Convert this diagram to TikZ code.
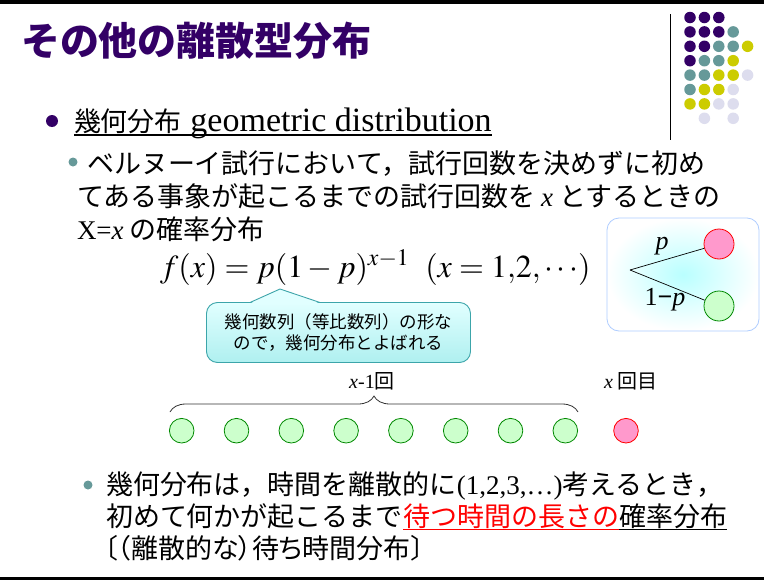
\documentclass[tikz,border=0pt]{standalone}
\usepackage{mathptmx}
\usepackage{fontspec}
\setmainfont{Liberation Serif}
\newfontfamily\jp{Noto Sans CJK JP}
\newfontfamily\jpp[RawFeature=+palt]{Noto Sans CJK JP}
\usetikzlibrary{decorations.pathreplacing}
\definecolor{ttl}{RGB}{51,0,102}
\definecolor{dpur}{RGB}{51,0,102}
\definecolor{dteal}{RGB}{102,153,153}
\definecolor{dyel}{RGB}{204,204,0}
\definecolor{dlav}{RGB}{221,221,238}
\definecolor{pinkf}{RGB}{255,153,204}
\definecolor{greenf}{RGB}{204,255,204}
\definecolor{greend}{RGB}{0,136,0}
\definecolor{callb}{RGB}{60,165,170}
\definecolor{calltop}{RGB}{225,255,255}
\definecolor{callbot}{RGB}{175,240,240}
\definecolor{treeb}{RGB}{175,205,255}
\definecolor{treein}{RGB}{185,255,255}
\tikzset{
  txt/.style={inner sep=0pt, outer sep=0pt, anchor=base west},
  body/.style={txt, font=\jp\fontsize{27}{30}\selectfont},
  gcirc/.style={circle, draw=greend, fill=greenf, line width=0.8pt, minimum size=24.6pt, inner sep=0pt},
  rcirc/.style={circle, draw=red, fill=pinkf, line width=0.8pt, minimum size=24.6pt, inner sep=0pt},
  dotp/.style={circle, fill=#1, minimum size=11.5pt, inner sep=0pt},
}
\begin{document}
\begin{tikzpicture}[x=1pt,y=-1pt]
\useasboundingbox (0,0) rectangle (764,581);
\fill[white] (0,0) rectangle (764,581);
% page rules
\draw[line width=3.5pt] (0,1.8) -- (764,1.8);
\draw[line width=3pt] (0,578.5) -- (764,578.5);
% title
\node[txt, text=ttl, font=\jp\bfseries\fontsize{39}{41}\selectfont] (title) at (21,55) {その他の離散型分布};
% decoration: vertical rule and dot grid
\coordinate (vt) at (670,14);
\coordinate (vb) at (670,140);
\draw[line width=0.9pt] (vt) -- (vb);
\foreach \r/\c/\col in {0/0/dpur,0/1/dpur,0/2/dpur,
  1/0/dpur,1/1/dpur,1/2/dpur,1/3/dteal,
  2/0/dpur,2/1/dpur,2/2/dteal,2/3/dteal,2/4/dyel,
  3/0/dpur,3/1/dteal,3/2/dteal,3/3/dyel,
  4/0/dteal,4/1/dteal,4/2/dyel,4/3/dyel,4/4/dlav,
  5/0/dteal,5/1/dyel,5/2/dyel,5/3/dlav,
  6/0/dyel,6/1/dyel,6/2/dlav,6/3/dlav,
  7/1/dlav,7/3/dlav}{
  \node[dotp=\col] (d\r\c) at ({690+14.4*\c},{17.5+14.4*\r}) {};
}
% heading
\node[circle, fill=dpur, minimum size=12pt, inner sep=0pt] (b1) at (52,121) {};
\node[txt, font=\fontsize{34}{36}\selectfont] (h) at (74,131) {{\jpp\fontsize{27}{30}\selectfont 幾何分布} geometric distribution};
\draw[line width=1.3pt] ([yshift=-4pt]h.base west) -- ([yshift=-4pt]h.base east);
% sub bullet
\node[circle, fill=dteal, minimum size=9pt, inner sep=0pt] (b2) at (73,162) {};
\node[body] (l1) at (87,173) {ベルヌーイ試行において，試行回数を決めずに初め};
\node[body] (l2) at (77,206) {てある事象が起こるまでの試行回数を {\rmfamily\itshape x} とするときの};
\node[body] (l3) at (77,239) {{\rmfamily X=\itshape x} の確率分布};
% formula
\node[txt, font=\fontsize{32}{34}\selectfont] (fm) at (160,277) {$f(x)=p(1-p)^{x-1}\ \ (x=1{,}2{,}\cdots)$};
% callout
\node[draw=callb, line width=0.9pt, rounded corners=11pt, top color=calltop, bottom color=callbot,
      minimum width=264pt, minimum height=60pt, inner sep=0pt, align=center,
      font=\jp\fontsize{17.5}{21}\selectfont] (call) at (338.5,332.5) {幾何数列（等比数列）の形な\\ので，幾何分布とよばれる};
\coordinate (ptip) at (280,289);
\coordinate (pl) at (250,302.5);
\coordinate (pr) at (320,302.5);
\fill[calltop] ([yshift=-1pt]pl) -- (ptip) -- ([yshift=-1pt]pr) -- cycle;
\draw[callb, line width=0.9pt, line join=round] (pl) -- (ptip) -- (pr);
% tree box
\shade[inner color=treein, outer color=white, rounded corners=12pt] (607,218) rectangle (759,331);
\draw[treeb, line width=0.8pt, rounded corners=12pt] (607,218) rectangle (759,331);
\coordinate (root) at (630,270);
\node[rcirc, minimum size=30pt] (tp) at (719,244) {};
\node[gcirc, minimum size=30pt] (tq) at (719,306) {};
\draw[line width=0.7pt] (root) -- (tp);
\draw[line width=0.7pt] (root) -- (tq);
\node[font=\fontsize{26}{28}\selectfont\itshape, inner sep=0pt] (lp) at (662,246) {p};
\node[font=\fontsize{26}{28}\selectfont, inner sep=0pt] (lq) at (665,300) {1{\textbf{\char"2212}}\textit{p}};
% sequence
\node[font=\fontsize{20}{22}\selectfont, inner sep=0pt] (lab1) at (372,381) {\textit{x}-1{\jp 回}};
\node[font=\fontsize{20}{22}\selectfont, inner sep=0pt] (lab2) at (631,381) {\textit{x} {\jp 回目}};
\foreach \i in {1,...,8}{
  \node[gcirc] (s\i) at ({181.7+54.8*(\i-1)},430.7) {};
}
\node[rcirc] (s9) at (626,430.7) {};
\coordinate (br1) at (170,412);
\coordinate (br2) at (578,412);
\draw[black!80, line width=0.8pt, decorate, decoration={brace, amplitude=16pt}] (br1) -- (br2);
% bottom bullet
\node[circle, fill=dteal, minimum size=9pt, inner sep=0pt] (b3) at (88,485) {};
\node[body] (m1) at (106,494) {幾何分布は，時間を離散的に{\rmfamily (1,2,3,…)}考えるとき，};
\node[body] (m2a) at (106,526) {初めて何かが起こるまで};
\node[body, text=red] (m2b) at (m2a.base east) {待つ時間の長さの};
\node[body] (m2c) at (m2b.base east) {確率分布};
\draw[red, line width=1.3pt] ([yshift=-3.5pt]m2b.base west) -- ([yshift=-3.5pt]m2b.base east);
\draw[line width=1.3pt] ([yshift=-3.5pt]m2c.base west) -- ([yshift=-3.5pt]m2c.base east);
\node[body, font=\jpp\fontsize{27}{30}\selectfont] (m3) at (104,558) {〔（離散的な）待ち時間分布〕};
\end{tikzpicture}
\end{document}
